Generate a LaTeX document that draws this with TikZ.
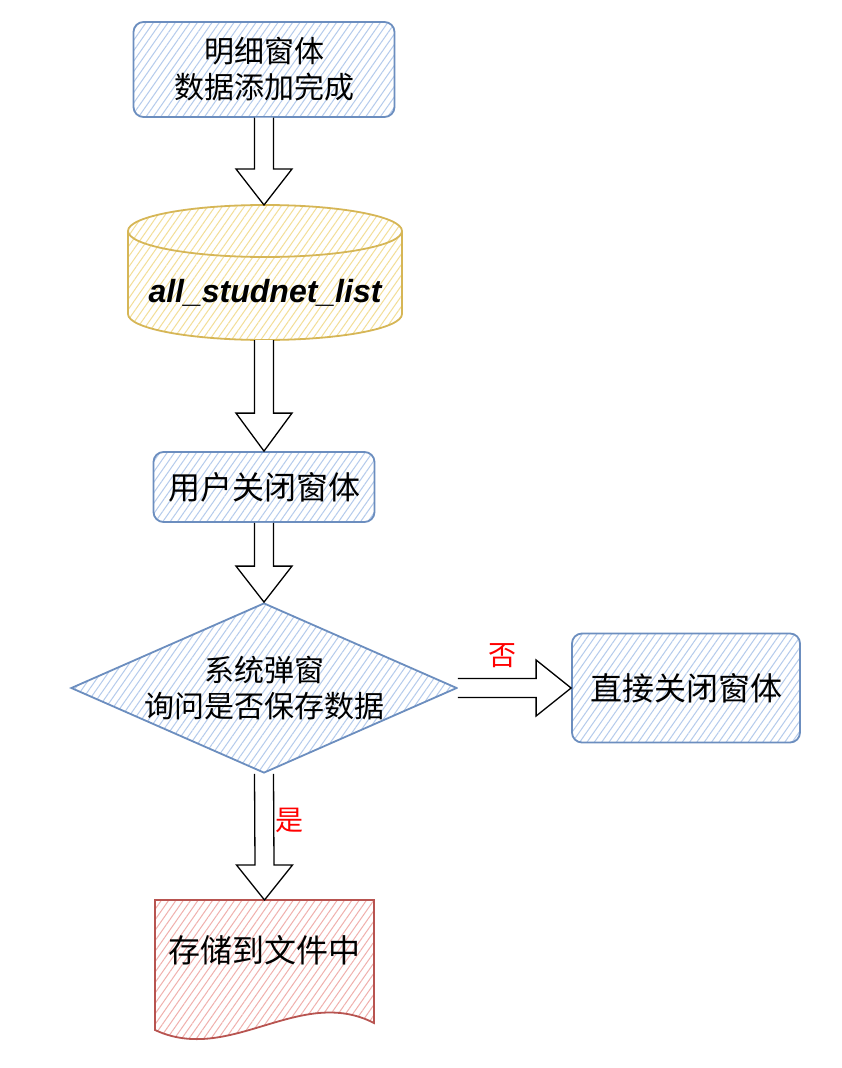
\documentclass[tikz,border=0pt]{standalone}
\usepackage{fontspec}
\setmainfont{Liberation Sans}
\newfontfamily\cjk{Noto Sans CJK SC}
\usetikzlibrary{shapes.geometric,patterns.meta,calc}
\definecolor{bstroke}{HTML}{6C8EBF}
\definecolor{bhatch}{HTML}{B4CBEC}
\definecolor{ystroke}{HTML}{D6B656}
\definecolor{yhatch}{HTML}{F3DE97}
\definecolor{rstroke}{HTML}{B85450}
\definecolor{rhatch}{HTML}{F0B0AD}
\tikzset{
  hatchb/.style={pattern={Lines[angle=55,distance=6pt,line width=1pt]},pattern color=bhatch},
  hatchy/.style={pattern={Lines[angle=55,distance=6pt,line width=1pt]},pattern color=yhatch},
  hatchr/.style={pattern={Lines[angle=55,distance=6pt,line width=1pt]},pattern color=rhatch},
  procbox/.style={draw=bstroke,line width=1.8pt,rounded corners=10pt,hatchb,inner sep=0pt},
  bigtxt/.style={font=\cjk\fontsize{32}{38}\selectfont},
  midtxt/.style={font=\cjk\fontsize{30}{36}\selectfont,align=center},
  barrow/.style={draw=black,line width=1.3pt,fill=white,line join=miter},
  yesno/.style={text=red,font=\cjk\fontsize{28}{32}\selectfont},
  plain/.style={inner sep=0pt,outer sep=0pt},
}
\newcommand\downarrowblk[3]{\draw[barrow] ($(#1)+(-9.5,0)$) -- ($(#2)+(-9.5,-#3)$) -- ($(#2)+(-28,-#3)$) -- (#2) -- ($(#2)+(28,-#3)$) -- ($(#2)+(9.5,-#3)$) -- ($(#1)+(9.5,0)$);}
\newcommand\rightarrowblk[3]{\draw[barrow] ($(#1)+(0,-9.5)$) -- ($(#2)+(-#3,-9.5)$) -- ($(#2)+(-#3,-28)$) -- (#2) -- ($(#2)+(-#3,28)$) -- ($(#2)+(-#3,9.5)$) -- ($(#1)+(0,9.5)$);}
\begin{document}
\begin{tikzpicture}[x=1pt,y=-1pt]
\useasboundingbox[fill=white] (0,0) rectangle (842,1068);

% box 1
\node[procbox,midtxt,minimum width=261pt,minimum height=95pt] (b1) at (264,69.5) {明细窗体\\数据添加完成};

% cylinder
\path[hatchy] (128,231) -- (128,314) arc[start angle=180,end angle=360,x radius=137pt,y radius=26pt] -- (402,231) arc[start angle=0,end angle=180,x radius=137pt,y radius=26pt] -- cycle;
\draw[ystroke,line width=1.8pt] (128,231) -- (128,314) arc[start angle=180,end angle=360,x radius=137pt,y radius=26pt] -- (402,231) arc[start angle=0,end angle=180,x radius=137pt,y radius=26pt] -- cycle;
\draw[ystroke,line width=1.8pt] (128,231) arc[start angle=180,end angle=360,x radius=137pt,y radius=26pt];
\node[plain,minimum width=274pt,minimum height=135pt] (cyl) at (264,272.5) {};
\node[plain,font=\fontsize{32}{38}\selectfont\bfseries\itshape] (cylt) at (265,293) {all\_studnet\_list};

% box 3
\node[procbox,bigtxt,minimum width=221pt,minimum height=70pt] (b3) at (264,487) {用户关闭窗体};

% diamond
\node[diamond,aspect=2.27,minimum width=386pt,minimum height=170pt,draw=bstroke,line width=1.8pt,hatchb,inner sep=0pt,midtxt] (dia) at (264,688) {系统弹窗\\询问是否保存数据};

% box 4
\node[procbox,bigtxt,minimum width=228pt,minimum height=109pt] (b4) at (686,688) {直接关闭窗体};

% document
\node[plain,minimum width=219pt,minimum height=143pt] (doc) at (264.5,971.5) {};
\path[hatchr] (doc.north west) -- (doc.north east) -- (374,1023) .. controls (300,985) and (230,1065) .. (155,1030) -- cycle;
\draw[rstroke,line width=1.8pt] (doc.north west) -- (doc.north east) -- (374,1023) .. controls (300,985) and (230,1065) .. (155,1030) -- cycle;
\node[plain,bigtxt] (doct) at (264.5,950) {存储到文件中};

% arrows
\downarrowblk{b1.south}{cyl.north}{36}
\downarrowblk{cyl.south}{b3.north}{38}
\downarrowblk{b3.south}{dia.north}{36}
\downarrowblk{dia.south}{doc.north}{35}
\rightarrowblk{dia.east}{b4.west}{35}

% labels
\node[plain,yesno] (lno) at (502,656) {否};
\node[plain,yesno] (lyes) at (289,820) {是};
\end{tikzpicture}
\end{document}
